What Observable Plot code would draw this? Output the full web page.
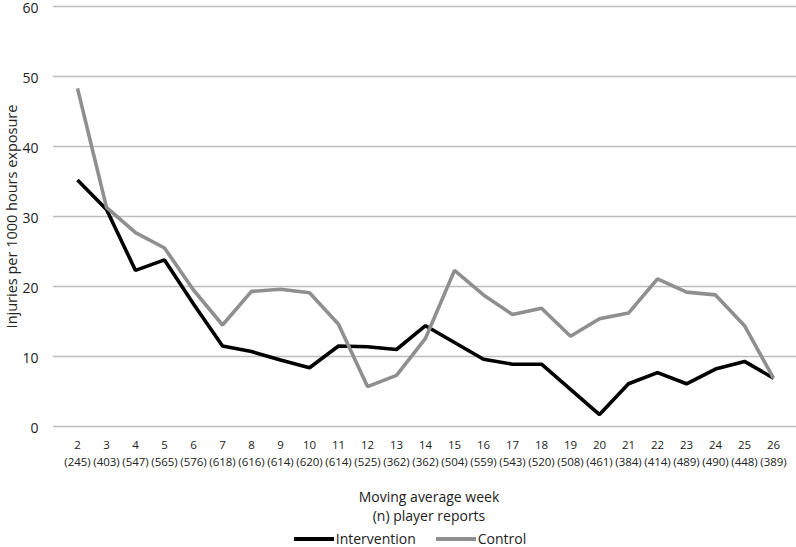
<!DOCTYPE html>
<html>
<head>
<meta charset="utf-8">
<script src="https://cdn.jsdelivr.net/npm/d3@7"></script>
<script src="https://cdn.jsdelivr.net/npm/@observablehq/plot@0.6"></script>
<style>
  html, body { margin: 0; padding: 0; background: #fff; }
  body { width: 796px; height: 547px; overflow: hidden; font-family: "Open Sans", sans-serif; color: #222; }
  #xtitle { text-align: center; font-size: 14px; line-height: 19px; margin-left: 62px; margin-top: 15px; }
  #legend { display: flex; justify-content: center; align-items: center; gap: 20px; font-size: 14px; line-height: 15px; height: 15px; margin-left: 24px; margin-top: 6px; }
  #legend span.item { display: flex; align-items: center; }
  #legend span.sw { display: inline-block; width: 40px; height: 4px; margin-right: 2px; }
</style>
</head>
<body>
<div id="chart"></div>
<div id="xtitle">Moving average week<br>(n) player reports</div>
<div id="legend">
  <span class="item"><span class="sw" style="background:#000"></span>Intervention</span>
  <span class="item"><span class="sw" style="background:#8f8f8f"></span>Control</span>
</div>
<script>
const weeks = [2,3,4,5,6,7,8,9,10,11,12,13,14,15,16,17,18,19,20,21,22,23,24,25,26];
const reports = [245,403,547,565,576,618,616,614,620,614,525,362,362,504,559,543,520,508,461,384,414,489,490,448,389];
const intervention = [35.2,31.0,22.3,23.8,17.5,11.5,10.7,9.5,8.4,11.5,11.4,11.0,14.4,12.0,9.6,8.9,8.9,5.3,1.7,6.1,7.7,6.1,8.2,9.3,6.9];
const control = [48.3,31.3,27.7,25.5,19.5,14.5,19.3,19.6,19.1,14.6,5.7,7.3,12.6,22.3,18.8,16.0,16.9,12.9,15.4,16.2,21.1,19.2,18.8,14.4,6.9];
const yTicks = [0,10,20,30,40,50,60];
const seriesNames = ["Intervention", "Control"];
const seriesColors = ["#000000", "#8f8f8f"];

const data = [];
weeks.forEach((w, i) => {
  data.push({week: String(w), value: intervention[i], series: seriesNames[0]});
  data.push({week: String(w), value: control[i], series: seriesNames[1]});
});
const tickLabel = new Map(weeks.map((w, i) => [String(w), `${w}\n(${reports[i]})`]));

const chart = Plot.plot({
  width: 796,
  height: 472,
  marginTop: 6,
  marginLeft: 53,
  marginRight: 0,
  marginBottom: 46,
  style: {fontFamily: "Open Sans, sans-serif", color: "#222", background: "#fff", overflow: "visible"},
  x: {type: "point", domain: weeks.map(String), padding: 0.5, label: null},
  y: {domain: [0, 60], label: null},
  color: {domain: seriesNames, range: seriesColors},
  marks: [
    Plot.ruleY(yTicks, {stroke: "#bdbdbd", strokeWidth: 1.6}),
    Plot.axisY(yTicks, {tickSize: 0, tickPadding: 15, fontSize: 14, dy: 2, label: null}),
    Plot.axisX({tickSize: 0, tickPadding: 11, fontSize: 11.5, lineHeight: 1.45, tickFormat: d => tickLabel.get(d), label: null}),
    Plot.text(["Injuries per 1000 hours exposure"], {frameAnchor: "left", dx: -41, dy: 0, rotate: -90, fontSize: 14.5, textAnchor: "middle", fill: "#222"}),
    Plot.line(data, {x: "week", y: "value", z: "series", stroke: "series", strokeWidth: 3.6, strokeLinejoin: "miter", strokeLinecap: "butt"})
  ]
});
document.getElementById("chart").append(chart);
</script>
</body>
</html>
